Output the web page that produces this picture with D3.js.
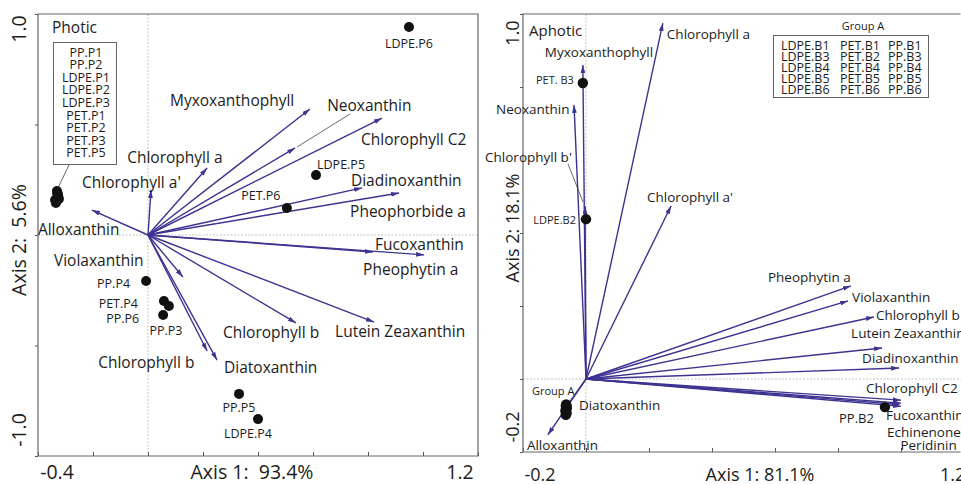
<!DOCTYPE html>
<html><head><meta charset="utf-8">
<script src="https://cdn.jsdelivr.net/npm/d3@7"></script>
<style>
body{margin:0;background:#fff}
svg{display:block}
text{font-family:"Open Sans",sans-serif;fill:#1c1c1c}
</style></head>
<body><svg id="c" width="961" height="485"></svg>
<script>
// ---------------- DATA ----------------
// Photic biplot (left)
const photicVariables = ["Myxoxanthophyll","Neoxanthin","Chlorophyll C2","Chlorophyll a","Chlorophyll a'","Diadinoxanthin","Pheophorbide a","Alloxanthin","Fucoxanthin","Pheophytin a","Violaxanthin","Chlorophyll b","Lutein Zeaxanthin","Chlorophyll b","Diatoxanthin"];
const photicVarAxis1 = [0.589,0.535,0.851,0.215,0.011,0.778,0.913,-0.204,0.818,1.004,0.127,0.538,0.822,0.215,0.251];
const photicVarAxis2 = [0.570,0.394,0.529,0.303,0.204,0.213,0.190,0.113,-0.077,-0.090,-0.190,-0.398,-0.394,-0.525,-0.566];
const photicSamples = ["LDPE.P6","LDPE.P5","PET.P6","PP.P4","PET.P4","PP.P3","PP.P6","PP.P5","LDPE.P4","PP.P1","PP.P2","LDPE.P1","LDPE.P2","LDPE.P3","PET.P1","PET.P2","PET.P3","PET.P5"];
const photicSampleAxis1 = [0.949,0.611,0.505,-0.007,0.058,0.076,0.055,0.331,0.400,-0.331,-0.327,-0.324,-0.335,-0.338,-0.329,-0.326,-0.333,-0.330];
const photicSampleAxis2 = [0.941,0.271,0.122,-0.208,-0.299,-0.321,-0.362,-0.719,-0.833,0.199,0.181,0.163,0.145,0.158,0.190,0.172,0.152,0.186];
const photicGroupBox = ["PP.P1","PP.P2","LDPE.P1","LDPE.P2","LDPE.P3","PET.P1","PET.P2","PET.P3","PET.P5"];
const photicXTicks = [-0.4,-0.2,0,0.2,0.4,0.6,0.8,1.0,1.2];
const photicYTicks = [-1.0,-0.5,0,0.5,1.0];
const photicXTickLabels = ["-0.4","1.2"];
const photicYTickLabels = ["1.0","-1.0"];
const photicAxisTitles = ["Axis 1:\u00a0 93.4%","Axis 2:\u00a0 5.6%"];

// Aphotic biplot (right)
const aphoticVariables = ["Chlorophyll a","Myxoxanthophyll","Neoxanthin","Chlorophyll b'","Chlorophyll a'","Pheophytin a","Violaxanthin","Chlorophyll b","Lutein Zeaxanthin","Diadinoxanthin","Chlorophyll C2","Fucoxanthin","Echinenone","Peridinin","Alloxanthin","Diatoxanthin"];
const aphoticVarAxis1 = [0.244,-0.010,-0.038,-0.003,0.270,0.841,0.832,0.914,0.940,0.994,1.000,1.000,1.000,0.995,-0.121,-0.067];
const aphoticVarAxis2 = [0.975,0.860,0.751,0.474,0.474,0.255,0.214,0.170,0.085,0.030,-0.058,-0.075,-0.066,-0.070,-0.153,-0.082];
const aphoticSamples = ["PET. B3","LDPE.B2","PP.B2","LDPE.B1","LDPE.B3","LDPE.B4","LDPE.B5","LDPE.B6","PET.B1","PET.B2","PET.B4","PET.B5","PET.B6","PP.B1","PP.B3","PP.B4","PP.B5","PP.B6"];
const aphoticSampleAxis1 = [-0.010,0.000,0.949,-0.063,-0.064,-0.062,-0.063,-0.065,-0.063,-0.062,-0.064,-0.063,-0.062,-0.064,-0.063,-0.062,-0.063,-0.064];
const aphoticSampleAxis2 = [0.811,0.438,-0.077,-0.070,-0.074,-0.078,-0.082,-0.086,-0.090,-0.094,-0.098,-0.072,-0.080,-0.088,-0.096,-0.076,-0.084,-0.092];
const groupAColumns = [["LDPE.B1","LDPE.B3","LDPE.B4","LDPE.B5","LDPE.B6"],["PET.B1","PET.B2","PET.B4","PET.B5","PET.B6"],["PP.B1","PP.B3","PP.B4","PP.B5","PP.B6"]];
const aphoticXTicks = [-0.2,0,0.2,0.4,0.6,0.8,1.0,1.2];
const aphoticYTicks = [-0.2,0,0.2,0.4,0.8,1.0];
const aphoticXTickLabels = ["-0.2","1.2"];
const aphoticYTickLabels = ["1.0","-0.2"];
const aphoticAxisTitles = ["Axis 1: 81.1%","Axis 2: 18.1%"];

// ---------------- LAYOUT (label offsets in px from arrow tips / points) ----------------
const photicVarLabelOffset = [[-140,-9],[32,-43],[-21,21],[-80,-11],[-69,-8],[-11,-8],[-49,18],[-54,19],[2,-8],[-61,14],[-129,-17],[-73,9],[-39,9],[-109,11],[7,7]];
const photicSampleLabelOffset = [[0,16,"middle"],[25,-11,"middle"],[-26,-13,"middle"],[-16,3,"end"],[-26,2,"end"],[-3,25,"middle"],[-24,3,"end"],[0,14,"middle"],[-10,14,"middle"]];
const aphoticVarLabelOffset = [[4,11],[-38,-13],[-78,4],[-100,-49],[-24,-9],[-83,-9],[4,-4],[2,-2],[-31,-15],[-37,-10],[-35,-12],[-15,9],[-14,29],[1,40],[-21,10],[14,-4]];
const aphoticSampleLabelOffset = [[-9,-3,"end"],[-10,0,"end"],[-11,11,"end"]];

const ARROW = "#3d3391";
const svg = d3.select("#c");
const defs = svg.append("defs");
defs.append("marker").attr("id","ah").attr("viewBox","0 0 10 6").attr("refX",10).attr("refY",3)
  .attr("markerWidth",8).attr("markerHeight",5).attr("markerUnits","userSpaceOnUse").attr("orient","auto")
  .append("path").attr("d","M0,0L10,3L0,6Z").attr("fill",ARROW);

function panel(opt){
  const g = svg.append("g");
  const x = d3.scaleLinear().domain(opt.xd).range(opt.xr);
  const y = d3.scaleLinear().domain(opt.yd).range(opt.yr);
  const [x0,x1] = opt.xr, [y1,y0] = opt.yr;
  g.append("line").attr("x1",x(0)).attr("x2",x(0)).attr("y1",y0).attr("y2",y1)
    .attr("stroke","#b5b5b5").attr("stroke-width",0.8).attr("stroke-dasharray","2,1.5");
  g.append("line").attr("x1",x0).attr("x2",x1).attr("y1",y(0)).attr("y2",y(0))
    .attr("stroke","#b5b5b5").attr("stroke-width",0.8).attr("stroke-dasharray","2,1.5");
  const ax = g.append("g").attr("transform",`translate(0,${y1})`)
    .call(d3.axisBottom(x).tickValues(opt.xt).tickSize(-4).tickFormat(""));
  const ay = g.append("g").attr("transform",`translate(${x0},0)`)
    .call(d3.axisLeft(y).tickValues(opt.yt).tickSize(3).tickFormat(""));
  [ax,ay].forEach(a=>{a.selectAll(".domain").remove(); a.selectAll("line").attr("stroke","#555");});
  const fr = g.append("path").attr("fill","none").attr("stroke","#666").attr("stroke-width",1.2);
  if(opt.closed) fr.attr("d",`M${x0},${y0}H${x1}V${y1}H${x0}Z`);
  else fr.attr("d",`M960.5,${y0}H${x0}V${y1}H960.5`);
  return {g,x,y};
}

function drawArrows(p, names, a1, a2, offs, fs){
  const data = names.map((n,i)=>({n, tx:p.x(a1[i]), ty:p.y(a2[i]), o:offs[i]}));
  p.g.selectAll("line.arrow").data(data).join("line").attr("class","arrow")
    .attr("x1",p.x(0)).attr("y1",p.y(0)).attr("x2",d=>d.tx).attr("y2",d=>d.ty)
    .attr("stroke",ARROW).attr("stroke-width",1.4).attr("marker-end","url(#ah)");
  p.g.selectAll("text.var").data(data).join("text").attr("class","var")
    .attr("x",d=>d.tx+d.o[0]).attr("y",d=>d.ty+d.o[1]).attr("dominant-baseline","central")
    .attr("font-size",fs).text(d=>d.n);
  return data;
}
function drawPoints(p, names, a1, a2, r){
  p.g.selectAll("circle.pt").data(names.map((n,i)=>({n,cx:p.x(a1[i]),cy:p.y(a2[i])}))).join("circle").attr("class","pt")
    .attr("cx",d=>d.cx).attr("cy",d=>d.cy).attr("r",r).attr("fill","#111");
}
function pointLabels(p, names, a1, a2, offs, fs){
  p.g.selectAll("text.pl").data(offs.map((o,i)=>({n:names[i],cx:p.x(a1[i]),cy:p.y(a2[i]),o}))).join("text").attr("class","pl")
    .attr("x",d=>d.cx+d.o[0]).attr("y",d=>d.cy+d.o[1]).attr("text-anchor",d=>d.o[2])
    .attr("dominant-baseline","central").attr("font-size",fs).text(d=>d.n);
}
function leader(g,x1,y1,x2,y2){
  g.append("line").attr("x1",x1).attr("y1",y1).attr("x2",x2).attr("y2",y2).attr("stroke","#444").attr("stroke-width",0.8);
}
function rotText(g,x,y,t,fs){
  g.append("text").attr("transform",`translate(${x},${y}) rotate(-90)`).attr("text-anchor","middle")
    .attr("dominant-baseline","central").attr("font-size",fs).text(t);
}
function plain(g,x,y,t,fs,anchor){
  g.append("text").attr("x",x).attr("y",y).attr("text-anchor",anchor||"start").attr("dominant-baseline","central").attr("font-size",fs).text(t);
}

// ---------------- LEFT PANEL ----------------
const L = panel({xd:[-0.4,1.2], xr:[38,478], yd:[-1,1], yr:[456,14], xt:photicXTicks, yt:photicYTicks, closed:true});
const la = drawArrows(L, photicVariables, photicVarAxis1, photicVarAxis2, photicVarLabelOffset, 15.5);
leader(L.g, la[1].tx+2, la[1].ty-1, la[1].tx+55, la[1].ty-34);
drawPoints(L, photicSamples, photicSampleAxis1, photicSampleAxis2, 5);
pointLabels(L, photicSamples, photicSampleAxis1, photicSampleAxis2, photicSampleLabelOffset, 12.5);
plain(L.g,52,27,"Photic",15.5);
// group box (one text block with stacked lines)
L.g.append("rect").attr("x",53.5).attr("y",42.5).attr("width",63).attr("height",122).attr("fill","none").attr("stroke","#666").attr("stroke-width",1);
L.g.append("text").attr("text-anchor","middle").attr("font-size",12.5)
  .selectAll("tspan").data(photicGroupBox).join("tspan").attr("x",86).attr("y",(d,i)=>56.5+i*12.6).text(d=>d);
leader(L.g, 69, 165, L.x(photicSampleAxis1[9])+1, L.y(photicSampleAxis2[9])-3);
// axis labels
plain(L.g,57,471,photicXTickLabels[0],19.5,"middle");
plain(L.g,460,471,photicXTickLabels[1],19.5,"middle");
plain(L.g,252,471,photicAxisTitles[0],19.5,"middle");
rotText(L.g,18,29,photicYTickLabels[0],19.5);
rotText(L.g,18,430,photicYTickLabels[1],19.5);
rotText(L.g,18,240,photicAxisTitles[1],19.5);

// ---------------- RIGHT PANEL ----------------
const R = panel({xd:[-0.2,1.2], xr:[523,964], yd:[-0.2,1.0], yr:[452,14], xt:aphoticXTicks, yt:aphoticYTicks, closed:false});
const ra = drawArrows(R, aphoticVariables, aphoticVarAxis1, aphoticVarAxis2, aphoticVarLabelOffset, 13.5);
leader(R.g, ra[3].tx-17, ra[3].ty-42, ra[3].tx-2, ra[3].ty-4);
drawPoints(R, aphoticSamples, aphoticSampleAxis1, aphoticSampleAxis2, 5.2);
pointLabels(R, aphoticSamples, aphoticSampleAxis1, aphoticSampleAxis2, aphoticSampleLabelOffset, 11);
R.g.selectAll("text.pl").filter((d,i)=>i===2).attr("font-size",13);
plain(R.g,529,30,"Aphotic",15);
plain(R.g,532,390,"Group A",11);
// group A table
plain(R.g,863,25,"Group A",11,"middle");
R.g.append("rect").attr("x",773.5).attr("y",35.5).attr("width",155).attr("height",62).attr("fill","none").attr("stroke","#666").attr("stroke-width",1);
const colX = [781,840,888];
const rows = groupAColumns[0].map((_,ri)=>groupAColumns.map(c=>c[ri]));
const tbl = R.g.append("text").attr("font-size",12.5);
rows.forEach((row,ri)=>row.forEach((cell,ci)=>{
  tbl.append("tspan").attr("x",colX[ci]).attr("y",49.5+ri*11).text(cell);
}));
plain(R.g,540,474,aphoticXTickLabels[0],18,"middle");
plain(R.g,940,474,aphoticXTickLabels[1],18);
plain(R.g,760,474,aphoticAxisTitles[0],18,"middle");
rotText(R.g,512,33,aphoticYTickLabels[0],18);
rotText(R.g,512,427,aphoticYTickLabels[1],18);
rotText(R.g,512,228,aphoticAxisTitles[1],18);
</script></body></html>
